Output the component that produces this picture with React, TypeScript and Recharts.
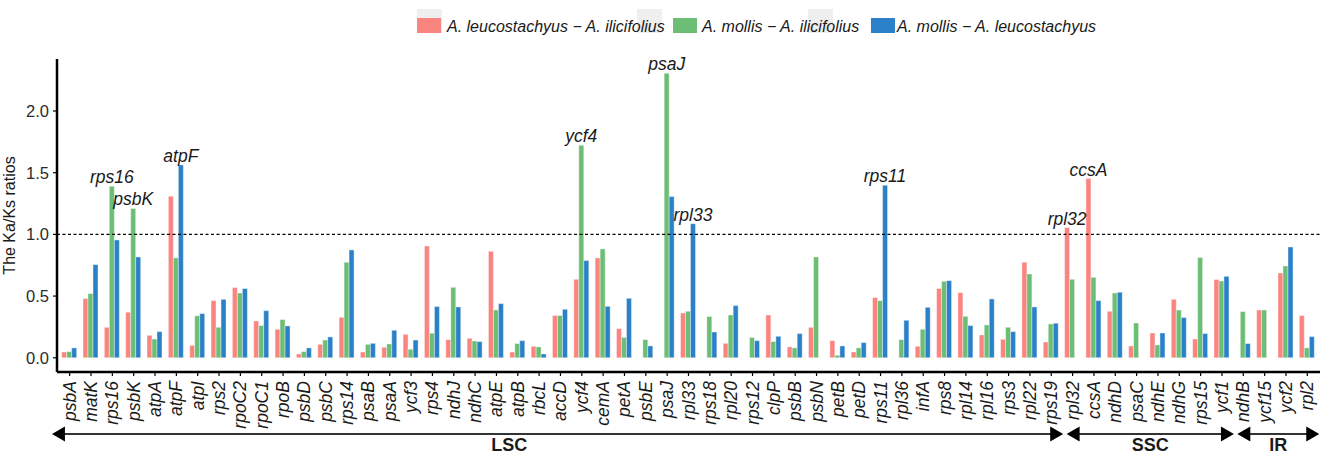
import { BarChart, Bar, XAxis, YAxis, ReferenceLine, LabelList } from "recharts";

const genes = [
    "psbA", "matK", "rps16", "psbK", "atpA", "atpF", "atpI", "rps2", "rpoC2", "rpoC1",
    "rpoB", "psbD", "psbC", "rps14", "psaB", "psaA", "ycf3", "rps4", "ndhJ", "ndhC",
    "atpE", "atpB", "rbcL", "accD", "ycf4", "cemA", "petA", "psbE", "psaJ", "rpl33",
    "rps18", "rpl20", "rps12", "clpP", "psbB", "psbN", "petB", "petD", "rps11", "rpl36",
    "infA", "rps8", "rpl14", "rpl16", "rps3", "rpl22", "rps19", "rpl32", "ccsA", "ndhD",
    "psaC", "ndhE", "ndhG", "rps15", "ycf1", "ndhB", "ycf15", "ycf2", "rpl2",
];

// A. leucostachyus vs A. ilicifolius
const leuIli = [
    0.047, 0.48, 0.247, 0.369, 0.182, 1.31, 0.10, 0.463, 0.569, 0.298,
    0.231, 0.031, 0.109, 0.328, 0.047, 0.085, 0.19, 0.906, 0.147, 0.158,
    0.863, 0.047, 0.093, 0.342, 0.636, 0.809, 0.236, 0, 0, 0.363,
    0, 0.117, 0, 0.347, 0.088, 0.247, 0.139, 0.047, 0.488, 0,
    0.093, 0.561, 0.528, 0.185, 0.15, 0.774, 0.128, 1.055, 1.452, 0.377,
    0.096, 0.201, 0.474, 0.152, 0.634, 0, 0.387, 0.687, 0.342,
];

// A. mollis vs A. ilicifolius
const molIli = [
    0.05, 0.52, 1.39, 1.21, 0.152, 0.81, 0.34, 0.247, 0.525, 0.261,
    0.31, 0.05, 0.144, 0.774, 0.109, 0.112, 0.069, 0.199, 0.571, 0.136,
    0.387, 0.115, 0.088, 0.342, 1.722, 0.882, 0.164, 0.147, 2.306, 0.377,
    0.334, 0.347, 0.164, 0.131, 0.08, 0.817, 0.02, 0.08, 0.463, 0.147,
    0.231, 0.62, 0.336, 0.266, 0.247, 0.679, 0.274, 0.636, 0.652, 0.525,
    0.282, 0.104, 0.387, 0.812, 0.622, 0.374, 0.387, 0.744, 0.08,
];

// A. mollis vs A. leucostachyus
const molLeu = [
    0.08, 0.755, 0.955, 0.817, 0.212, 1.563, 0.358, 0.474, 0.561, 0.382,
    0.258, 0.08, 0.169, 0.874, 0.117, 0.223, 0.144, 0.415, 0.412, 0.131,
    0.439, 0.139, 0.031, 0.393, 0.788, 0.417, 0.482, 0.096, 1.306, 1.087,
    0.209, 0.423, 0.139, 0.174, 0.196, 0, 0.096, 0.123, 1.398, 0.304,
    0.409, 0.625, 0.261, 0.477, 0.212, 0.412, 0.28, 0, 0.463, 0.531,
    0, 0.201, 0.326, 0.196, 0.66, 0.115, 0, 0.898, 0.172,
];

// genes with Ka/Ks above 1 that get a name on top
const tagged = ["rps16", "psbK", "atpF", "ycf4", "psaJ", "rpl33", "rps11", "rpl32", "ccsA"];

const regions = [
    { name: "LSC", first: "psbA", last: "rps19" },
    { name: "SSC", first: "rpl32", last: "ycf1" },
    { name: "IR", first: "ndhB", last: "rpl2" },
];

const seriesNames = [
    "A. leucostachyus \u2212 A. ilicifolius",
    "A. mollis \u2212 A. ilicifolius",
    "A. mollis \u2212 A. leucostachyus",
];
const COLORS = ["#FA8580", "#6BBE73", "#2B81C9"];
const KEYS = ["leuIli", "molIli", "molLeu"];

const data = genes.map((gene, i) => ({
    gene,
    leuIli: leuIli[i],
    molIli: molIli[i],
    molLeu: molLeu[i],
}));

const FONT = "'Liberation Sans', Arial, sans-serif";
const W = 1323;
const H = 454;
const PLOT_L = 57;
const PLOT_R = 1320;
const PAD = 2;
const BAND = (PLOT_R - PLOT_L - 2 * PAD) / genes.length;
const cx = (i: number) => PLOT_L + PAD + (i + 0.5) * BAND;

const GeneTick = ({ x, y, payload }: any) => (
    <text
        transform={`translate(${x + 6},${y + 3}) rotate(-90)`}
        textAnchor="end"
        fontFamily={FONT}
        fontStyle="italic"
        fontSize={17.5}
        fill="#1a1a1a"
    >
        {payload.value}
    </text>
);

const RatioTick = ({ x, y, payload }: any) => (
    <text x={x - 2} y={y + 6} textAnchor="end" fontFamily={FONT} fontSize={16.5} fill="#2b2b2b">
        {payload.value.toFixed(1)}
    </text>
);

// name above the tallest bar of a tagged gene
const tagLabel = (series: number) => (props: any) => {
    const { x, y, width, value } = props;
    if (!tagged.includes(value)) return null;
    const row = data[genes.indexOf(value)];
    const vals = [row.leuIli, row.molIli, row.molLeu];
    if (vals.indexOf(Math.max(...vals)) !== series) return null;
    return (
        <text
            x={x + width / 2}
            y={y - 3}
            textAnchor="middle"
            fontFamily={FONT}
            fontStyle="italic"
            fontSize={17.5}
            fill="#1a1a1a"
        >
            {value}
        </text>
    );
};

const LegendBox = () => {
    const greys = [417, 637, 808];
    const keys = [417, 673, 871];
    const texts = [447, 702, 897];
    return (
        <svg width={W} height={40} style={{ position: "absolute", left: 0, top: 0 }}>
            {greys.map((gx) => (
                <rect key={gx} x={gx} y={9} width={25} height={24} fill="#efefef" />
            ))}
            {keys.map((kx, i) => (
                <rect key={kx} x={kx} y={18} width={24} height={15} fill={COLORS[i]} />
            ))}
            {texts.map((tx, i) => (
                <text
                    key={tx}
                    x={tx}
                    y={32}
                    fontFamily={FONT}
                    fontStyle="italic"
                    fontSize={16}
                    fill="#1a1a1a"
                >
                    {seriesNames[i]}
                </text>
            ))}
        </svg>
    );
};

const Arrowhead = ({ tip, dir }: { tip: number; dir: number }) => {
    const y = 434;
    return (
        <polygon
            points={`${tip},${y} ${tip - dir * 13},${y - 7.5} ${tip - dir * 13},${y + 7.5}`}
            fill="#000"
        />
    );
};

const RegionArrows = () => {
    const spans = regions.map((r, k) => {
        const a = genes.indexOf(r.first);
        const b = genes.indexOf(r.last);
        const left = k === 0 ? cx(a) - 0.83 * BAND : cx(a) - 0.28 * BAND;
        const right = cx(b) + 0.56 * BAND;
        const mid = k === 0 ? cx(20.6) : (left + right) / 2;
        return { ...r, left, right, mid };
    });
    return (
        <svg width={W} height={H} style={{ position: "absolute", left: 0, top: 0, pointerEvents: "none" }}>
            {spans.map((s) => (
                <g key={s.name}>
                    <line x1={s.left + 6} x2={s.right - 6} y1={434} y2={434} stroke="#333" strokeWidth={2} />
                    <Arrowhead tip={s.left} dir={-1} />
                    <Arrowhead tip={s.right} dir={1} />
                    <text
                        x={s.mid}
                        y={451}
                        textAnchor="middle"
                        fontFamily={FONT}
                        fontWeight="bold"
                        fontSize={18}
                        fill="#1a1a1a"
                    >
                        {s.name}
                    </text>
                </g>
            ))}
        </svg>
    );
};

export default function App() {
    return (
        <div style={{ position: "absolute", left: 0, top: 0, width: W, height: H, background: "#fff" }}>
            <BarChart
                width={W}
                height={H}
                data={data}
                margin={{ top: 59, right: W - PLOT_R, left: 0, bottom: 0 }}
                barCategoryGap="12.5%"
                barGap={0}
            >
                <XAxis
                    dataKey="gene"
                    interval={0}
                    height={82}
                    padding={{ left: PAD, right: PAD }}
                    tick={<GeneTick />}
                    tickSize={4}
                    tickLine={{ stroke: "#000", strokeWidth: 1.2 }}
                    axisLine={{ stroke: "#000", strokeWidth: 2.5 }}
                />
                <YAxis
                    width={PLOT_L}
                    domain={[-0.1153, 2.4213]}
                    allowDataOverflow
                    ticks={[0, 0.5, 1, 1.5, 2]}
                    tick={<RatioTick />}
                    tickSize={4}
                    tickLine={{ stroke: "#000", strokeWidth: 1.2 }}
                    axisLine={{ stroke: "#000", strokeWidth: 2.5 }}
                    label={{
                        value: "The Ka/Ks ratios",
                        angle: -90,
                        position: "insideLeft",
                        dx: 4,
                        style: { fontFamily: FONT, fontSize: 16, fill: "#1a1a1a", textAnchor: "middle" },
                    }}
                />
                {KEYS.map((k, i) => (
                    <Bar
                        key={k}
                        dataKey={k}
                        name={seriesNames[i]}
                        fill={COLORS[i]}
                        stroke="#fff"
                        strokeWidth={0.4}
                        isAnimationActive={false}
                    >
                        <LabelList dataKey="gene" content={tagLabel(i)} />
                    </Bar>
                ))}
                <ReferenceLine y={1} stroke="#000" strokeWidth={1.3} strokeDasharray="3 2.5" />
            </BarChart>
            <LegendBox />
            <RegionArrows />
        </div>
    );
}
